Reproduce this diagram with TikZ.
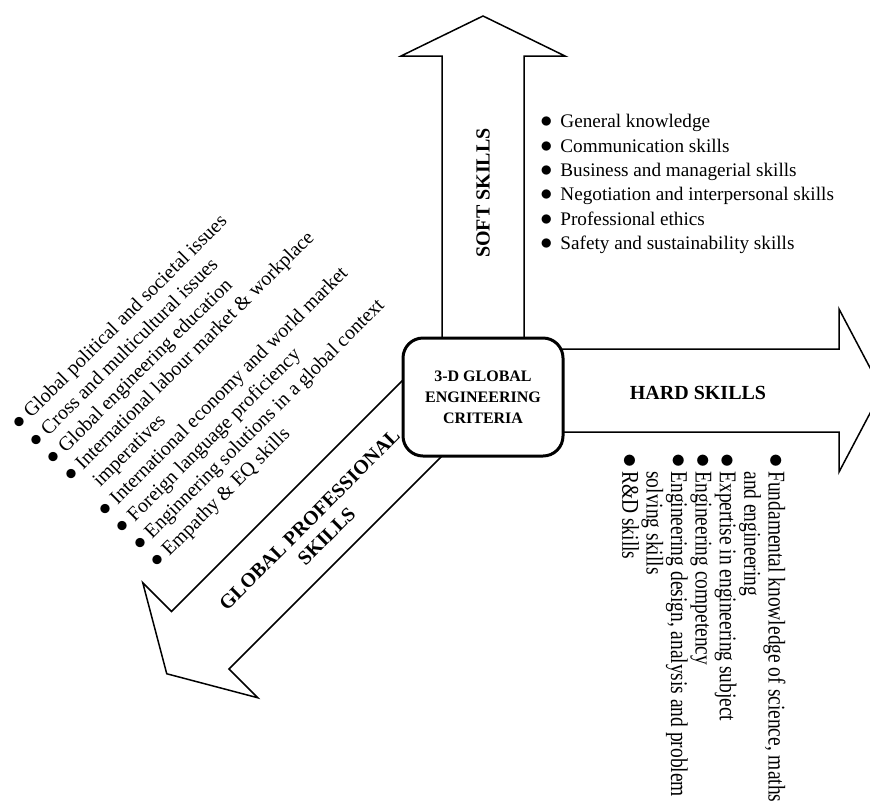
\documentclass[tikz,border=0pt]{standalone}
\usepackage{fontspec}
\setmainfont{Liberation Serif}
\newfontfamily\narrowserif[FakeStretch=0.81]{Liberation Serif}
\usepackage{tikz}
\let\bf\textbf
\newcommand{\itm}[1][10pt]{\makebox[#1][l]{\scalebox{1.2}{$\bullet$}}}
\newcommand{\cont}[1][10pt]{\hspace*{#1}}
\tikzset{
    armshape/.style={line width=0.75pt, line join=miter},
    crit/.style={draw, line width=1.5pt, rounded corners=10pt, fill=white,
        minimum width=80pt, minimum height=59pt, align=center,
        font=\bfseries\fontsize{8}{10.5}\selectfont},
    armlabel/.style={align=center, font=\bfseries\fontsize{10}{12}\selectfont},
    skilllist/.style={inner sep=0pt, align=left, anchor=north west}
}

\begin{document}
\begin{tikzpicture}[x=0.5pt,y=-0.5pt]
    \useasboundingbox (0,0) rectangle (870,803);
    \clip (0,0) rectangle (870,803);
    %%% THREE ARMS %%%
    % soft skills, up %
    \draw[armshape] (442,397)--(442,56)--(401,56)--(483,16)--(565,56)--(524,56)--(524,397);
    % hard skills, right %
    \draw[armshape] (483,349)--(839,349)--(839,309)--(882,390.5)--(839,472)--(839,432)--(483,432);
    % global professional skills, down-left %
    \draw[armshape] (420,363)--(171.5,611.5)--(142.75,582.75)--(166.75,673.75)--(257.75,697.75)--(229,669)--(483,415);
    %%% CENTRE %%%
    \node[crit] (core) at (483,397){3-D GLOBAL\\ENGINEERING\\CRITERIA};
    % arm labels %
    \node[armlabel, rotate=90] (softlbl) at (483,193){\bf{SOFT SKILLS}};
    \node[armlabel] (hardlbl) at (698,393){\bf{HARD SKILLS}};
    \node[armlabel, rotate=45] (globlbl) at (318,528){GLOBAL PROFESSIONAL\\SKILLS};
    %%% SKILL LISTS %%%
    \node[skilllist, font=\fontsize{9.6}{12.2}\selectfont] (softlist) at (540,114){%
        \itm General knowledge\\
        \itm Communication skills\\
        \itm Business and managerial skills\\
        \itm Negotiation and interpersonal skills\\
        \itm Professional ethics\\
        \itm Safety and sustainability skills};
    \node[skilllist, rotate=-90, font=\narrowserif\fontsize{12}{12.2}\selectfont] (hardlist) at (786,453){%
        \itm[9pt]Fundamental knowledge of science, maths\\
        \cont[9pt]and engineering\\
        \itm[9pt]Expertise in engineering subject\\
        \itm[9pt]Engineering competency\\
        \itm[9pt]Engineering design, analysis and problem\\
        \cont[9pt]solving skills\\
        \itm[9pt]R\&D skills};
    \node[skilllist, rotate=45, font=\fontsize{10}{12.2}\selectfont] (globlist) at (9,421){%
        \itm[8.5pt]Global political and societal issues\\
        \itm[8.5pt]Cross and multicultural issues\\
        \itm[8.5pt]Global engineering education\\
        \itm[8.5pt]International labour market \& workplace\\
        \cont[8.5pt]imperatives\\
        \itm[8.5pt]International economy and world market\\
        \itm[8.5pt]Foreign language proficiency\\
        \itm[8.5pt]Enginnering solutions in a global context\\
        \itm[8.5pt]Empathy \& EQ skills};
\end{tikzpicture}
\end{document}
